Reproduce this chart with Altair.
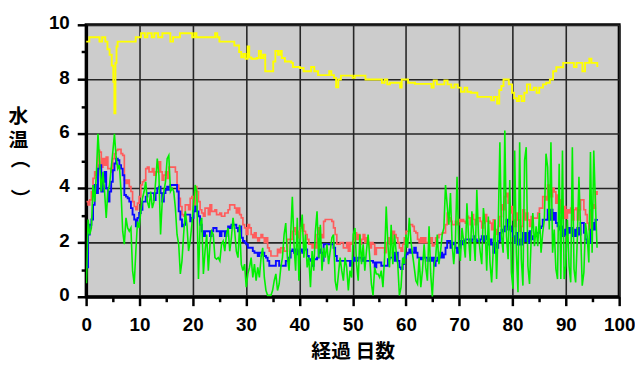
import altair as alt
import pandas as pd

# ---------------- data ----------------
yellow_day = [
    0, 0.6, 2.5, 3.0, 3.6, 4.0, 4.4, 4.8, 5.1, 5.3, 5.5, 5.7, 5.9,
    9.3, 10.3, 11.0, 11.5, 12.3, 12.8, 13.5, 14.3, 15.8, 16.3, 17.6, 19.9, 20.3, 20.7, 21.3, 24.2, 24.6, 25.0,
    27.8, 28.7, 29.1, 29.5, 29.9, 30.3, 30.6, 31.0, 32.0, 32.4, 32.8, 33.2, 33.6, 35.1, 35.5, 36.0, 36.4, 36.7, 37.3, 38.5, 38.8,
    40.1, 40.8, 41.6, 42.2, 42.8, 43.5, 45.6, 46.0, 46.5, 46.9, 47.3, 47.8, 49.6, 50.0, 50.4, 52.4,
    55.5, 56.0, 56.5, 57.0, 58.9, 59.2, 60.4, 61.7, 64.8, 65.2, 65.8, 67.2, 67.8, 68.5, 69.1, 69.7,
    70.3, 71.0, 71.5, 72.2, 73.4, 76.0, 76.5, 77.1, 77.5, 77.9, 78.3, 79.3, 79.9, 80.3, 80.8, 81.2, 81.7, 82.2, 82.7, 83.3,
    84.0, 84.5, 85.0, 85.7, 86.3, 87.0, 87.6, 88.2, 89.5, 91.5, 92.0, 93.1, 93.6, 94.4, 94.8, 95.9,
]
yellow_val = [
    9.38, 9.54, 9.38, 9.54, 9.38, 9.1, 8.9, 8.5, 7.9, 6.75, 8.6, 9.2, 9.38,
    9.54, 9.69, 9.54, 9.69, 9.54, 9.69, 9.54, 9.69, 9.38, 9.54, 9.69, 9.54, 9.69, 9.54, 9.54, 9.69, 9.54, 9.38,
    9.24, 9.0, 8.8, 8.93, 8.75, 9.2, 8.8, 8.75, 8.78, 9.04, 8.78, 8.9, 8.29, 8.65, 9.04, 8.9, 9.04, 8.78, 8.65, 8.6, 8.45,
    8.41, 8.29, 8.29, 8.45, 8.29, 8.15, 8.29, 8.15, 8.05, 7.7, 7.99, 8.13, 8.13, 8.05, 8.13, 7.99,
    7.87, 7.99, 7.81, 7.87, 7.69, 7.99, 7.87, 7.83, 7.69, 7.95, 7.81, 7.95, 7.81, 7.69, 7.81, 7.69,
    7.54, 7.69, 7.54, 7.5, 7.35, 7.22, 7.35, 7.1, 7.6, 7.75, 7.99, 7.81, 7.5, 7.3, 7.2, 7.38, 7.2, 7.5, 7.81, 7.6,
    7.69, 7.5, 7.69, 7.81, 7.87, 7.99, 8.29, 8.44, 8.6, 8.45, 8.6, 8.29, 8.6, 8.75, 8.6, 8.45,
]

# red / blue / green are sampled every ~0.31 day starting at day 0.06
sample_start = 0.06
sample_step = 0.309

red_val = [
    3.5, 3.38, 3.56, 3.87, 4.35, 4.59, 4.47, 5.38, 5.32, 4.77, 5.08, 4.84, 5.14, 4.71, 4.71, 4.59, 5.08, 5.26, 5.38, 5.42,
    5.42, 5.26, 5.2, 4.29, 4.17, 4.29, 4.05, 3.87, 3.5, 3.32, 3.2, 3.44, 3.68, 4.11, 4.23, 4.29, 4.71, 4.77, 4.59, 4.59,
    4.71, 4.47, 4.59, 4.59, 4.96, 4.59, 4.29, 4.47, 4.59, 4.35, 4.77, 4.77, 4.77, 4.77, 4.59, 4.11, 3.62, 3.32, 3.02, 2.96,
    3.38, 3.38, 3.2, 3.62, 3.68, 3.38, 4.05, 3.87, 3.5, 3.2, 3.08, 2.96, 3.26, 3.26, 3.02, 3.38, 3.14, 3.14, 3.2, 3.02,
    3.02, 3.08, 2.96, 2.96, 3.08, 3.08, 3.2, 3.38, 3.38, 3.38, 3.26, 3.08, 3.26, 3.02, 2.9, 2.65, 2.53, 2.29, 2.65, 2.53,
    2.29, 2.17, 2.35, 2.17, 2.05, 2.17, 2.29, 2.17, 1.99, 2.17, 1.8, 1.68, 1.5, 1.5, 1.5, 1.5, 1.74, 1.62, 1.8, 1.8,
    1.68, 1.68, 2.11, 2.11, 2.11, 2.41, 2.53, 2.29, 2.17, 2.41, 2.53, 2.65, 2.41, 2.29, 2.11, 1.93, 1.93, 1.8, 1.93, 1.8,
    2.29, 2.53, 2.29, 2.17, 2.77, 2.84, 2.84, 2.84, 2.84, 2.77, 2.53, 2.29, 1.93, 1.93, 1.99, 1.99, 1.8, 1.8, 1.99, 1.68,
    1.99,
    1.93, 2.05, 2.35, 2.11, 2.29, 1.93, 2.11, 2.29, 1.99, 2.17, 1.99, 1.8, 1.99, 1.93, 1.56, 1.8, 1.8, 1.8, 1.8, 1.8,
    1.62, 1.99, 2.17, 1.93, 1.99, 2.41, 2.29, 2.17, 1.99, 1.8, 1.68, 1.93, 2.17, 2.41, 2.41, 2.65, 2.65, 2.59, 2.41, 2.35,
    2.11, 1.99, 2.17, 1.99, 2.17, 1.99, 1.99, 1.99, 2.17, 1.87, 1.93, 2.17, 2.17, 2.29, 2.29, 2.35, 2.35, 2.65, 3.08, 2.9,
    2.77, 2.65, 2.65, 2.77, 2.65, 2.84, 2.77, 2.84, 2.77, 2.71, 2.96, 2.9, 2.65, 3.02, 2.84, 2.65, 2.9, 2.9, 2.77, 2.53,
    2.71, 3.02, 2.77,
    2.77, 2.71, 2.47, 2.83, 2.47, 2.29, 2.59, 2.95, 3.38, 3.2, 3.68, 3.8, 3.44, 3.08, 3.32, 2.83, 2.59, 3.08, 2.83, 2.41,
    2.59, 3.2, 2.83, 3.08, 2.83, 2.59, 2.95, 2.89, 2.89, 2.89, 3.08, 3.26, 3.26, 3.68, 3.68, 3.56, 4.11, 3.8, 3.68, 3.99,
    3.86, 3.44, 3.74, 3.56, 3.08, 2.89, 3.32, 2.89, 3.2, 3.08, 3.26, 2.83, 3.2, 3.26, 2.83, 3.2, 3.56, 3.56, 3.2, 3.02,
    2.71, 2.47, 3.2, 3.38, 3.26, 3.86, 3.74,
]

blue_val = [
    1.08, 2.29, 2.65, 2.84, 3.38, 4.11, 3.81, 4.71, 4.84, 3.87, 4.23, 4.59, 3.99, 3.5, 3.87, 4.23, 4.65, 4.9, 5.08, 5.02,
    4.84, 4.71, 4.47, 3.74, 3.68, 3.62, 3.5, 3.26, 3.02, 2.84, 2.59, 2.9, 3.08, 3.2, 3.5, 3.5, 3.68, 3.81, 3.81, 3.81,
    3.81, 3.56, 3.81, 3.99, 4.05, 3.81, 3.5, 3.81, 3.93, 4.05, 3.93, 4.11, 4.11, 4.11, 4.11, 3.87, 3.14, 2.84, 2.59, 2.65,
    3.02, 3.02, 3.02, 2.77, 2.9, 3.14, 3.32, 3.14, 2.96, 2.65, 2.41, 2.23, 2.41, 2.41, 2.41, 2.23, 2.41, 2.53, 2.53, 2.41,
    2.41, 2.23, 2.41, 2.41, 2.23, 2.41, 2.59, 2.53, 2.65, 2.65, 2.65, 2.53, 2.41, 2.59, 2.17, 2.05, 1.99, 1.93, 1.8, 1.8,
    1.8, 1.68, 1.62, 1.62, 1.5, 1.62, 1.62, 1.62, 1.5, 1.44, 1.32, 1.14, 1.14, 1.14, 1.14, 1.32, 1.32, 1.14, 1.14, 1.14,
    1.14, 1.32, 1.32, 1.44, 1.68, 1.74, 1.62, 1.74, 1.56, 1.68, 1.74, 1.62, 1.74, 1.74, 1.5, 1.38, 1.32, 1.14, 1.38, 1.38,
    1.44, 1.74, 1.62, 1.32, 1.93, 1.93, 1.93, 1.93, 1.93, 1.93, 1.8, 1.5, 1.32, 1.32, 1.32, 1.32, 1.32, 1.32, 1.32, 1.32,
    1.14,
    1.32, 1.44, 1.32, 1.32, 1.44, 1.44, 1.32, 1.44, 1.32, 1.32, 1.32, 1.32, 1.32, 1.26, 1.08, 1.26, 1.26, 1.26, 1.14, 1.14,
    1.14, 1.14, 1.38, 1.44, 1.44, 1.62, 1.32, 1.62, 1.32, 1.08, 1.02, 1.2, 1.44, 1.56, 1.62, 1.74, 1.62, 1.62, 1.8, 1.62,
    1.44, 1.44, 1.38, 1.44, 1.44, 1.44, 1.32, 1.44, 1.32, 1.44, 1.14, 1.32, 1.44, 1.44, 1.62, 1.44, 1.56, 1.8, 2.05, 2.05,
    1.8, 1.93, 1.99, 1.8, 1.62, 1.8, 2.05, 1.93, 2.05, 2.11, 2.11, 2.11, 2.05, 2.11, 2.23, 2.11, 2.05, 2.05, 2.11, 2.23,
    2.05, 2.23, 2.11,
    1.92, 2.11, 1.92, 1.62, 1.98, 1.8, 2.05, 2.35, 2.47, 2.41, 2.59, 2.83, 2.47, 2.59, 2.41, 2.23, 1.98, 2.35, 1.92, 2.11,
    1.92, 2.35, 2.05, 2.35, 1.98, 2.41, 2.11, 2.23, 2.23, 2.23, 2.35, 2.53, 2.59, 2.83, 2.83, 2.83, 3.2, 2.83, 3.2, 2.83,
    3.08, 2.71, 2.59, 2.47, 2.59, 2.23, 2.47, 2.29, 2.53, 2.35, 2.53, 2.23, 2.47, 2.23, 2.53, 2.29, 2.71, 2.71, 2.35, 2.11,
    1.98, 1.98, 2.47, 2.71, 2.47, 2.83, 2.86,
]

green_val = [
    0.5, 2.84, 2.29, 2.53, 4.11, 3.5, 4.47, 5.99, 4.96, 3.87, 4.59, 3.87, 2.9, 3.87, 4.11, 4.71, 5.32, 5.99, 5.14, 4.71,
    4.84, 3.87, 2.41, 1.93, 2.9, 2.53, 2.41, 2.53, 0.96, 0.47, 1.68, 2.77, 2.53, 3.14, 3.62, 3.87, 4.23, 3.5, 3.26, 3.87,
    3.26, 3.5, 4.23, 5.08, 4.47, 2.29, 3.5, 3.87, 4.23, 5.08, 5.2, 3.87, 3.99, 3.87, 3.26, 2.29, 1.93, 0.84, 1.32, 2.29,
    3.14, 2.65, 1.68, 2.05, 2.65, 3.38, 4.11, 3.87, 0.65, 2.65, 2.9, 0.84, 1.68, 2.29, 0.96, 1.93, 2.41, 2.29, 1.44, 1.38,
    1.44, 1.32, 1.93, 2.05, 1.68, 2.29, 2.53, 1.68, 2.17, 2.9, 2.41, 1.68, 1.44, 2.65, 1.2, 0.96, 1.2, 0.35, 0.84, 1.08,
    1.44, 0.71, 1.2, 0.59, 1.08, 0.71, 1.44, 1.8, 0.71, 0.23, 0.05, 0.05, 0.05, 0.23, 0.59, 0.84, 0.23, 0.47, 1.08, 1.44,
    2.29, 2.71, 1.44, 0.96, 2.29, 3.68, 1.93, 0.96, 2.9, 0.59, 2.41, 3.02, 1.44, 2.29, 1.08, 1.44, 0.35, 1.68, 0.96, 2.41,
    3.14, 1.44, 2.65, 0.96, 1.8, 1.44, 1.93, 1.2, 1.68, 2.17, 2.29, 0.59, 0.23, 0.84, 1.44, 0.96, 0.59, 1.44, 1.08, 0.23,
    0.96,
    0.71, 2.29, 2.53, 1.2, 0.59, 2.29, 1.2, 1.93, 0.96, 1.68, 2.29, 1.44, 0.47, 0.05, 1.08, 0.84, 0.84, 0.71, 0.96, 0.35,
    1.44, 3.32, 1.93, 1.08, 2.65, 1.2, 2.29, 1.68, 1.2, 0.05, 0.35, 1.44, 1.2, 2.29, 1.8, 2.9, 2.05, 1.56, 1.08, 0.59,
    0.47, 1.44, 0.35, 0.96, 1.93, 1.08, 0.59, 2.59, 0.84, 0.0, 1.2, 1.44, 2.29, 1.2, 1.68, 2.29, 2.53, 4.11, 3.38, 2.65,
    3.81, 1.93, 1.2, 2.05, 4.41, 1.93, 1.32, 2.53, 2.05, 1.44, 3.44, 2.17, 1.32, 3.14, 2.29, 1.32, 3.93, 2.29, 1.68, 1.2,
    3.26, 2.65, 0.96,
    2.95, 1.26, 0.53, 1.74, 2.83, 0.65, 2.59, 5.68, 2.23, 1.62, 6.11, 2.23, 1.38, 4.29, 0.89, 0.29, 5.38, 1.62, 0.17, 5.68,
    1.38, 0.41, 5.02, 5.5, 1.14, 0.47, 2.11, 3.08, 1.86, 2.59, 1.86, 3.08, 1.62, 2.35, 2.83, 5.26, 4.77, 2.47, 5.68, 1.62,
    2.47, 1.02, 0.65, 4.89, 0.65, 5.38, 0.65, 1.14, 2.83, 1.14, 0.53, 5.5, 1.02, 0.53, 2.11, 4.41, 2.47, 0.41, 0.89, 2.71,
    2.23, 1.26, 5.32, 1.62, 5.38, 3.44, 1.8,
]

x_ticks = [i * 5 for i in range(21)]
y_ticks = [i * 0.5 for i in range(21)]
x_title = "経過 日数"
y_title = ["水", "温"]
y_title_brackets = "（\u3000）"   # written vertically as in the reference

# ---------------- build chart ----------------
def sampled(vals):
    days = [round(sample_start + sample_step * i, 3) for i in range(len(vals))]
    return pd.DataFrame({"day": days, "value": vals})

yellow_df = pd.DataFrame({"day": yellow_day, "value": yellow_val})
red_df = sampled(red_val)
blue_df = sampled(blue_val)
green_df = sampled(green_val)

x_axis = alt.Axis(
    values=x_ticks,
    format="d",
    title=x_title,
    labelExpr="datum.value % 10 === 0 ? datum.label : ''",
    tickSize={"condition": {"test": "datum.value % 10 === 0", "value": 9}, "value": 5},
    gridOpacity={"condition": {"test": "datum.value % 10 === 0", "value": 1}, "value": 0},
    labelPadding=10,
    titleY=55,
    titleBaseline="middle",
    labelFlush=False,
)
y_axis = alt.Axis(
    orient="left",
    values=y_ticks,
    format="d",
    title=y_title,
    titleAngle=0,
    titleAlign="center",
    titleBaseline="top",
    titleX=-69,
    titleY=83,
    titleLineHeight=24,
    labelExpr="datum.value % 2 === 0 ? datum.label : ''",
    tickSize={"condition": {"test": "datum.value % 2 === 0", "value": 9}, "value": 5},
    gridOpacity={"condition": {"test": "datum.value % 2 === 0", "value": 1}, "value": 0},
    labelPadding=8,
    labelOffset=-2,
    labelFlush=False,
)
# second (title-only) left axis carrying the vertical brackets of the y title
y_axis_brackets = alt.Axis(
    orient="left",
    title=y_title_brackets,
    titleAngle=90,
    titleAlign="center",
    titleBaseline="middle",
    titleX=-68,
    titleY=155,
    labels=False,
    ticks=False,
    domain=False,
    grid=False,
)

X = alt.X("day:Q", scale=alt.Scale(domain=[0, 100], nice=False, zero=False), axis=x_axis)
Y = alt.Y("value:Q", scale=alt.Scale(domain=[0, 10], nice=False), axis=y_axis)
Y2 = alt.Y("value:Q", scale=alt.Scale(domain=[0, 10], nice=False), axis=y_axis_brackets)


def line(df, color, width, interp, y=Y):
    return alt.Chart(df).mark_line(
        color=color, strokeWidth=width, interpolate=interp, clip=True
    ).encode(x=X, y=y)


main = alt.layer(
    line(red_df, "#ff5c5c", 1.7, "step-after"),
    line(blue_df, "#0a0aff", 1.9, "step-after"),
    line(yellow_df, "#ffff00", 1.9, "step-after"),
)
green = line(green_df, "#00f000", 1.6, "linear", y=Y2)

chart = alt.layer(main, green).resolve_axis(y="independent").properties(
    width=539,
    height=275,
    autosize=alt.AutoSizeParams(type="none"),
    padding={"left": 79, "top": 15, "right": 16, "bottom": 66},
).configure_view(
    fill="#cccccc", stroke="black", strokeWidth=3
).configure_axis(
    domainColor="black",
    domainWidth=3,
    tickColor="black",
    tickWidth=2.5,
    gridColor="#262626",
    gridWidth=1.6,
    labelFont="Liberation Sans",
    labelFontWeight="bold",
    labelFontSize=19,
    labelColor="black",
    titleFont="Noto Sans CJK JP",
    titleFontWeight="bold",
    titleFontSize=20,
    titleColor="black",
)

chart.save("out.html", embed_options={"renderer": "svg", "actions": False})
